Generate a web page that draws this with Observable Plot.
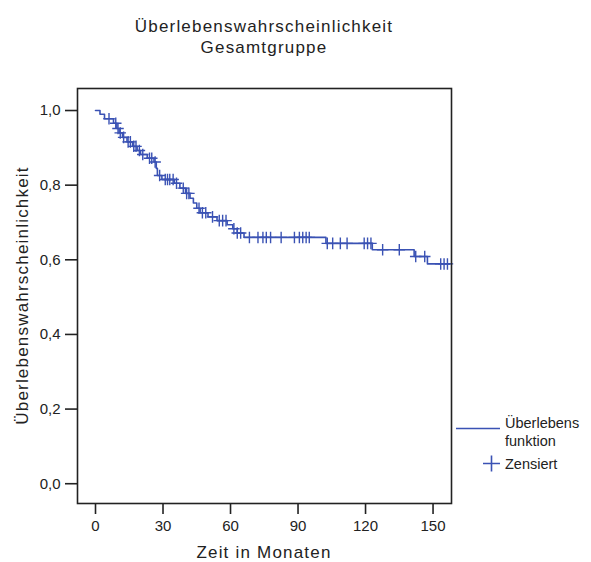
<!DOCTYPE html>
<html>
<head>
<meta charset="utf-8">
<script src="https://cdn.jsdelivr.net/npm/d3@7"></script>
<script src="https://cdn.jsdelivr.net/npm/@observablehq/plot@0.6"></script>
<style>
  html, body { margin: 0; padding: 0; background: #fff; }
  #chart svg { display: block; }
</style>
</head>
<body>
<div id="chart"></div>
<script>
// Kaplan–Meier estimate for the whole cohort: times of each step (months)
// and the survival probability after that step.
const stepTimes = [0, 2, 4, 8, 9.5, 10.5, 12, 14, 16.5, 18.5, 20, 23, 26, 27, 27.5, 29.5,
  35, 37.5, 40, 42, 43.5, 45, 46.5, 50, 54, 58.5, 61, 63, 66, 102.4, 123, 141.6, 147.5, 157.5];
const stepSurv = [1.0, 0.99, 0.978, 0.966, 0.952, 0.94, 0.928, 0.916, 0.904, 0.893, 0.882, 0.872,
  0.862, 0.845, 0.826, 0.815, 0.805, 0.792, 0.778, 0.765, 0.752, 0.738, 0.726, 0.715, 0.705,
  0.694, 0.683, 0.672, 0.66, 0.644, 0.627, 0.609, 0.589, 0.589];

// Censored observations (months)
const censorTimes = [6, 9, 10, 11, 12.5, 14.5, 15.5, 17, 18, 19.5, 21, 24, 25, 26.5, 28.5, 31, 32,
  33, 34.5, 36, 39, 40.5, 41.5, 46, 47.5, 49, 52, 55, 56.5, 58, 61.5, 63, 64.5,
  68.4, 72.2, 74.4, 75.9, 77.8, 82.5, 88.4, 90.6, 92.1, 93.6, 95.0, 103, 105.4, 108.8, 111.8,
  119.4, 120.9, 122.4, 127.6, 135.0, 142.3, 146.3, 153.4, 154.9, 156.4];

const xTicks = [0, 30, 60, 90, 120, 150];
const yTicks = [0, 0.2, 0.4, 0.6, 0.8, 1.0];

const titleLines = ["Überlebenswahrscheinlichkeit", "Gesamtgruppe"];
const xLabel = "Zeit in Monaten";
const yLabel = "Überlebenswahrscheinlichkeit";
const legendLine = ["Überlebens", "funktion"];
const legendCensor = "Zensiert";

const blue = "#3a52b4";
const ink = "#222";
const font = "'Liberation Sans', Arial, sans-serif";

const curve = stepTimes.map((t, i) => ({t, s: stepSurv[i]}));
const bis = d3.bisector(d => d.t).right;
const censored = censorTimes.map(t => ({t, s: curve[Math.max(0, bis(curve, t) - 1)].s}));

const fmt = d => d.toFixed(1).replace(".", ",");

const W = 591, H = 562;
const mL = 77, mR = 140, mT = 88, mB = 59;

const chart = Plot.plot({
  width: W,
  height: H,
  marginLeft: mL,
  marginRight: mR,
  marginTop: mT,
  marginBottom: mB,
  style: {fontFamily: font, fontSize: "15px", color: ink, background: "#fff"},
  x: {domain: [-8, 158.2]},
  y: {domain: [-0.053, 1.059]},
  marks: [
    Plot.axisX({ticks: xTicks, tickSize: 11, tickPadding: 6, tickFormat: d => d, label: null, fontSize: 15, strokeWidth: 1.6}),
    Plot.axisY({ticks: yTicks, tickSize: 12, tickPadding: 5, tickFormat: fmt, label: null, fontSize: 15, strokeWidth: 1.6}),
    Plot.line(curve, {x: "t", y: "s", curve: "step-after", stroke: blue, strokeWidth: 1.6}),
    Plot.dot(censored, {x: "t", y: "s", symbol: "plus", r: 3.8, stroke: blue, strokeWidth: 1.4}),
    Plot.frame({stroke: ink, strokeWidth: 1.6})
  ]
});

document.getElementById("chart").appendChild(chart);

// Titles, axis labels and legend
const svg = d3.select(chart);
const cx = mL + (W - mL - mR) / 2;
const cy = mT + (H - mT - mB) / 2;

const t = svg.append("g").attr("font-family", font).attr("fill", ink)
  .attr("text-anchor", "middle").attr("font-size", 17).attr("letter-spacing", 1.2);
t.append("text").attr("x", cx).attr("y", 32).text(titleLines[0]);
t.append("text").attr("x", cx).attr("y", 53).text(titleLines[1]);
t.append("text").attr("x", cx).attr("y", 558).text(xLabel);
t.append("text").attr("transform", `translate(28,${cy}) rotate(-90)`).text(yLabel);

const lg = svg.append("g").attr("font-family", font).attr("fill", ink)
  .attr("font-size", 14.5).attr("text-anchor", "start");
lg.append("line").attr("x1", 456).attr("x2", 500).attr("y1", 428.5).attr("y2", 428.5)
  .attr("stroke", blue).attr("stroke-width", 1.6);
lg.append("text").attr("x", 505).attr("y", 428).text(legendLine[0]);
lg.append("text").attr("x", 505).attr("y", 446).text(legendLine[1]);
lg.append("path").attr("d", "M483,463.5H500M491.5,455.5V471.5").attr("stroke", blue).attr("stroke-width", 1.6);
lg.append("text").attr("x", 505).attr("y", 469).text(legendCensor);
</script>
</body>
</html>
